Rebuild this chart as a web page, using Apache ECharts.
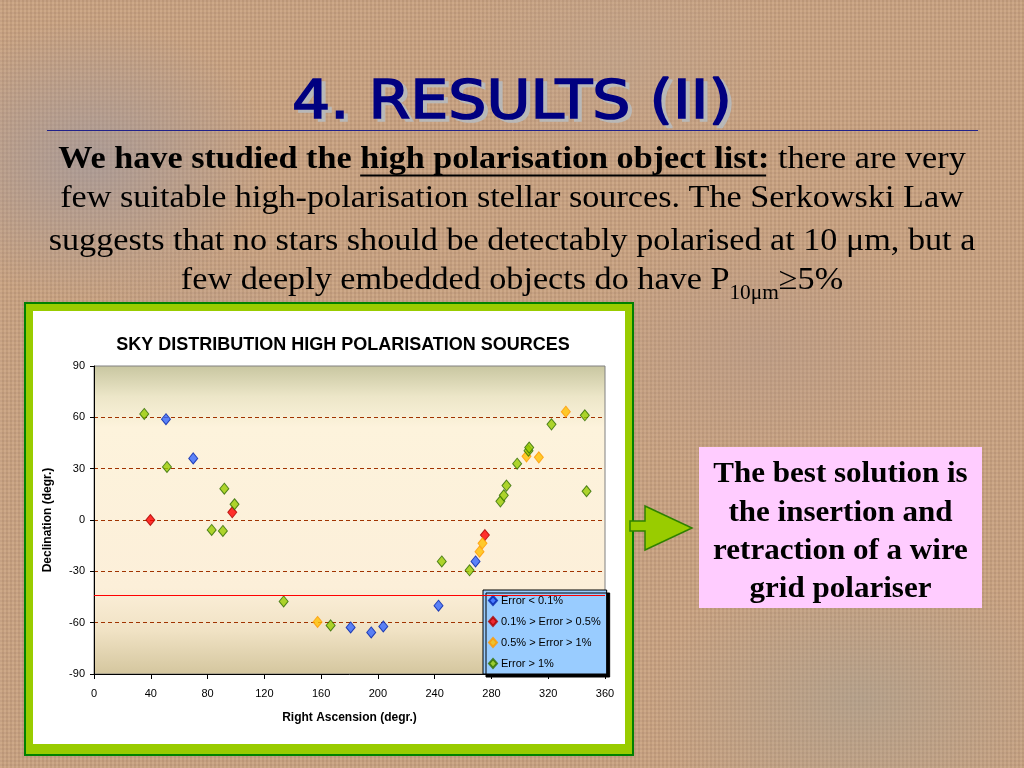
<!DOCTYPE html>
<html><head><meta charset="utf-8">
<script src="https://cdn.jsdelivr.net/npm/echarts@6/dist/echarts.min.js"></script>
<style>
html,body{margin:0;padding:0;width:1024px;height:768px;overflow:hidden;}
body{
  background-color:#c8a07e;
  background-image:
    radial-gradient(ellipse 260px 200px at 90px 160px, rgba(150,150,165,0.55), rgba(150,150,165,0) 70%),
    radial-gradient(ellipse 200px 260px at 200px 420px, rgba(165,150,155,0.35), rgba(165,150,155,0) 70%),
    radial-gradient(ellipse 300px 200px at 860px 700px, rgba(160,160,150,0.45), rgba(160,160,150,0) 70%),
    radial-gradient(ellipse 260px 180px at 760px 350px, rgba(175,150,140,0.35), rgba(175,150,140,0) 70%),
    radial-gradient(ellipse 240px 160px at 620px 60px, rgba(185,165,150,0.35), rgba(185,165,150,0) 70%),
    repeating-linear-gradient(90deg, rgba(255,255,255,0.05) 0 2px, rgba(0,0,0,0.04) 2px 4px),
    repeating-linear-gradient(0deg, rgba(255,230,200,0.06) 0 2px, rgba(90,80,100,0.05) 2px 4px);
}
#c{width:1024px;height:768px;}
</style></head><body><div id="c"></div>
<script>
// ---- data ----
const seriesNames = ['Error < 0.1%', '0.1% > Error > 0.5%', '0.5% > Error > 1%', 'Error > 1%'];
const seriesColors = ['#3366ff', '#ff0000', '#ffbf00', '#99cc00'];
const seriesBorders = ['#0022aa', '#aa0000', '#ff9900', '#2f6b00'];
// [Right Ascension (deg), Declination (deg)]
const errLt01 = [[50.7,58.9],[69.9,36],[180.8,-62.8],[195.3,-65.7],[203.8,-62.2],[242.7,-50.1],[268.8,-24.2]];
const err01to05 = [[39.7,0],[97.4,4.5],[275.4,-8.8]];
const err05to1 = [[157.5,-59.6],[271.6,-18.5],[273.7,-13.6],[304.7,37.2],[313.4,36.6],[332.4,63.3]];
const errGt1 = [[35.4,62],[51.4,31],[91.8,18.3],[99,9.2],[82.9,-5.8],[90.8,-6.4],[133.6,-47.6],
  [166.7,-61.6],[245,-24.2],[264.6,-29.4],[286.3,10.9],[288.7,14.4],[290.6,20.1],[298.1,32.9],
  [306.1,40.5],[306.6,42.3],[322.3,55.9],[345.8,61.2],[347,16.8]];
const seriesData = [errLt01, err01to05, err05to1, errGt1];
const refLineDec = -44;
const xMin = 0, xMax = 360, xStep = 40;
const yMin = -90, yMax = 90, yStep = 30;

const chartTitle = 'SKY DISTRIBUTION HIGH POLARISATION SOURCES';
const xName = 'Right Ascension (degr.)';
const yName = 'Declination (degr.)';
const slideTitle = '4. RESULTS (II)';
const boxLines = ['The best solution is', 'the insertion and', 'retraction of a wire', 'grid polariser'];

// ---- text measuring helper ----
const mctx = document.createElement('canvas').getContext('2d');
function tw(font, s){ mctx.font = font; return mctx.measureText(s).width; }

const serif = '"Liberation Serif", "Times New Roman", serif';
const sans = '"Liberation Sans", Arial, sans-serif';
const pSize = 32;
const pScale = 1.068;
const fB = 'bold ' + pSize + 'px ' + serif;
const fN = pSize + 'px ' + serif;

const graphics = [];
// slide title with gray drop shadow
const tFont = '54px "DejaVu Sans", sans-serif';
const tScale = 440 / tw(tFont, slideTitle);
graphics.push({type:'text', x:516, y:107, scaleX:tScale, z:1, silent:true,
  style:{text:slideTitle, font:tFont, fill:'#b8b8b8', stroke:'#b8b8b8', lineWidth:1.6, align:'center', verticalAlign:'middle'}});
graphics.push({type:'text', x:512, y:104, scaleX:tScale, z:2, silent:true,
  style:{text:slideTitle, font:tFont, fill:'#000080', stroke:'#000080', lineWidth:1.6, align:'center', verticalAlign:'middle'}});
graphics.push({type:'line', z:1, silent:true, shape:{x1:47, y1:130.5, x2:978, y2:130.5},
  style:{stroke:'#22228a', lineWidth:1}});

function txt(x, y, s, font){ return {type:'text', x:x, y:y, silent:true, style:{text:s, font:font, fill:'#000', align:'left', verticalAlign:'middle'}}; }

// paragraph line 1 (bold + bold underlined + normal), drawn in a horizontally scaled group
const l1a = 'We have studied the ', l1b = 'high polarisation object list:', l1c = ' there are very';
const w1a = tw(fB, l1a), w1b = tw(fB, l1b), w1c = tw(fN, l1c);
let s1 = -(w1a + w1b + w1c) / 2;
graphics.push({type:'group', x:512, y:0, scaleX:pScale, children:[
  txt(s1, 160, l1a, fB),
  txt(s1 + w1a, 160, l1b, fB),
  {type:'line', silent:true, shape:{x1:s1 + w1a, y1:175.5, x2:s1 + w1a + w1b - 3, y2:175.5}, style:{stroke:'#000', lineWidth:2}},
  txt(s1 + w1a + w1b, 160, l1c, fN)
]});
const l2 = 'few suitable high-polarisation stellar sources. The Serkowski Law';
const l3 = 'suggests that no stars should be detectably polarised at 10 \u03bcm, but a';
graphics.push({type:'group', x:512, y:0, scaleX:pScale, children:[
  txt(-tw(fN, l2) / 2, 199, l2, fN),
  txt(-tw(fN, l3) / 2, 242, l3, fN)
]});
// line 4 with subscript
const l4a = 'few deeply embedded objects do have P', l4b = '10\u03bcm', l4c = '\u22655%';
const fSub = '20px ' + serif;
const w4a = tw(fN, l4a), w4b = tw(fSub, l4b), w4c = tw(fN, l4c);
let s4 = -(w4a + w4b + w4c) / 2;
graphics.push({type:'group', x:512, y:0, scaleX:pScale, children:[
  txt(s4, 281, l4a, fN),
  txt(s4 + w4a, 294, l4b, fSub),
  txt(s4 + w4a + w4b, 281, l4c, fN)
]});

// chart frame (green border box)
graphics.push({type:'rect', z:-3, silent:true, shape:{x:24, y:302, width:610, height:454}, style:{fill:'#008000'}});
graphics.push({type:'rect', z:-2, silent:true, shape:{x:26, y:304, width:606, height:450}, style:{fill:'#99cc00'}});
graphics.push({type:'rect', z:-1, silent:true, shape:{x:33, y:311, width:592, height:433}, style:{fill:'#ffffff'}});
graphics.push({type:'text', x:343, y:345, silent:true, style:{text:chartTitle, font:'bold 18px ' + sans, fill:'#000', align:'center', verticalAlign:'middle'}});

// arrow
graphics.push({type:'polygon', silent:true, z:-2,
  shape:{points:[[630,521],[645,521],[645,506],[692,528],[645,550],[645,531],[630,531]]},
  style:{fill:'#99cc00', stroke:'#2f8000', lineWidth:1.5}});
// pink box
graphics.push({type:'rect', silent:true, shape:{x:699, y:447, width:283, height:161}, style:{fill:'#ffccff'}});
const bFont = 'bold 29px ' + serif;
const boxY = [475, 514, 552, 590];
graphics.push({type:'group', x:840.5, y:0, scaleX:1.07, children: boxLines.map((s, i) =>
  ({type:'text', x:0, y:boxY[i], silent:true, style:{text:s, font:bFont, fill:'#000', align:'center', verticalAlign:'middle'}}))
});

const series = seriesData.map((d, i) => ({
  name: seriesNames[i],
  type: 'scatter',
  data: d,
  symbol: 'diamond',
  symbolSize: [9, 11],
  itemStyle: {color: seriesColors[i], borderColor: seriesBorders[i], borderWidth: 1},
  z: 3
}));
series[3].markLine = {
  silent: true, symbol: 'none', label: {show: false}, animation: false,
  lineStyle: {color: '#ff0000', type: 'solid', width: 1},
  data: [{yAxis: refLineDec}]
};

const chart = echarts.init(document.getElementById('c'), null, {renderer: 'canvas'});
chart.setOption({
  animation: false,
  backgroundColor: 'transparent',
  grid: {
    left: 94, right: 1024 - 605, top: 366, bottom: 768 - 674,
    show: true, borderColor: '#808080', borderWidth: 1,
    backgroundColor: new echarts.graphic.LinearGradient(0, 0, 0, 1, [
      {offset: 0, color: '#c8c6a0'},
      {offset: 0.1, color: '#ece6c8'},
      {offset: 0.2, color: '#fdf3dc'},
      {offset: 0.72, color: '#fcefd9'},
      {offset: 0.86, color: '#f0e2c4'},
      {offset: 1, color: '#d4c69e'}
    ])
  },
  legend: {
    orient: 'vertical', left: 483, top: 590,
    data: seriesNames,
    backgroundColor: '#99ccff', borderColor: '#000', borderWidth: 1, borderRadius: 0,
    padding: [5, 6, 5, 5], itemGap: 10, itemWidth: 8, itemHeight: 9,
    icon: 'diamond',
    textStyle: {fontSize: 11, color: '#000', fontFamily: sans, padding: [0, 0, 0, -1]},
    shadowColor: '#000', shadowBlur: 0, shadowOffsetX: 3, shadowOffsetY: 3,
    selectedMode: false
  },
  xAxis: {
    type: 'value', min: xMin, max: xMax, interval: xStep,
    name: xName, nameLocation: 'middle', nameGap: 38,
    nameTextStyle: {fontSize: 12, fontWeight: 'bold', color: '#000', fontFamily: sans},
    axisLine: {show: true, onZero: false, lineStyle: {color: '#000', width: 1}},
    axisTick: {show: true, inside: false, length: 5, lineStyle: {color: '#000'}},
    axisLabel: {fontSize: 11, color: '#000', margin: 14, fontFamily: sans},
    splitLine: {show: false}
  },
  yAxis: {
    type: 'value', min: yMin, max: yMax, interval: yStep,
    name: yName, nameLocation: 'middle', nameGap: 40, nameRotate: 90,
    nameTextStyle: {fontSize: 12, fontWeight: 'bold', color: '#000', fontFamily: sans},
    axisLine: {show: true, onZero: false, lineStyle: {color: '#000', width: 1}},
    axisTick: {show: true, inside: false, length: 4, lineStyle: {color: '#000'}},
    axisLabel: {fontSize: 11, color: '#000', margin: 9, fontFamily: sans},
    splitLine: {show: true, showMinLine: false, showMaxLine: false,
      lineStyle: {color: '#a03300', type: [4, 3], width: 1}}
  },
  graphic: {elements: graphics},
  series: series
});
</script></body></html>
